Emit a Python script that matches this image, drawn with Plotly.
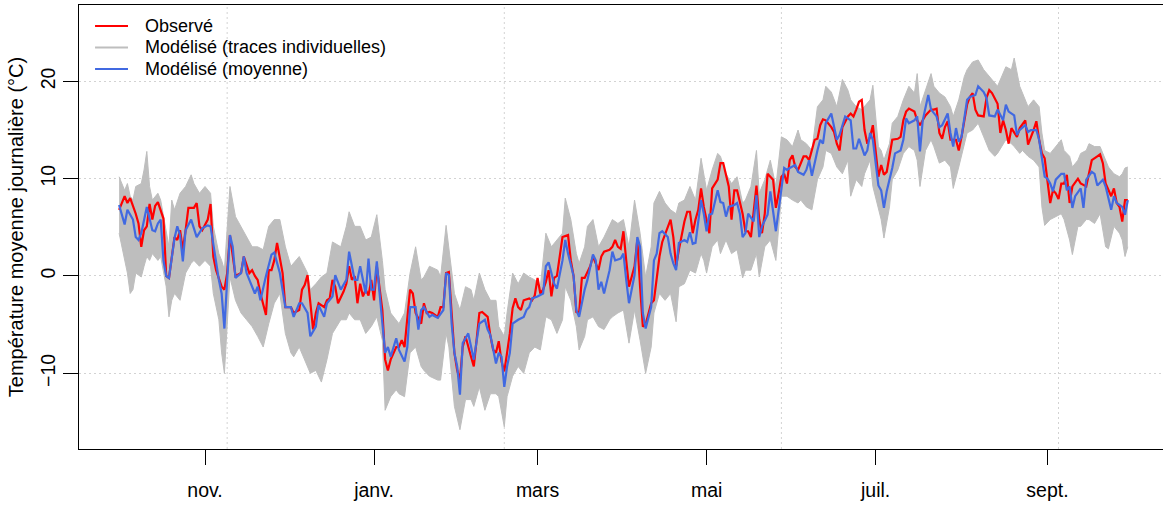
"""
Température moyenne journalière : observée vs modélisée (oct. 2002 - sept. 2003)
"""
import pandas as pd
import plotly.graph_objects as go

# jours comptés depuis le 1er octobre 2002
DEBUT = pd.Timestamp("2002-10-01")

obs_jour = [0, 2, 3, 4, 6, 7, 8, 9, 10, 11, 12, 13, 14, 16, 17, 18, 20, 21, 22, 23, 24, 25, 27, 28, 29, 30,
            32, 33, 34, 35, 37, 38, 39, 40, 42, 44, 45, 47, 48, 49, 50, 51, 53, 54, 55, 56, 57, 59, 60, 62,
            63, 65, 66, 67, 68, 69, 70, 71, 72, 74, 75, 76, 77, 78, 79, 81, 82, 83, 84, 85, 86, 87, 88, 89,
            90, 91, 92, 93, 94, 95, 96, 97, 98, 100, 101, 102, 103, 104, 105, 106, 107, 109, 110, 111, 112,
            113, 115, 116, 117, 118, 119, 120, 121, 122, 123, 124, 125, 127, 128, 129, 130, 131, 133, 134,
            135, 136, 137, 138, 139, 140, 141, 142, 143, 144, 145, 146, 148, 149, 150, 151, 152, 153, 154,
            155, 156, 157, 158, 159, 160, 162, 163, 164, 165, 166, 167, 168, 170, 171, 172, 173, 174, 175,
            177, 178, 179, 180, 181, 182, 183, 184, 186, 187, 188, 189, 190, 192, 193, 194, 195, 196, 198,
            199, 200, 201, 202, 204, 205, 206, 207, 208, 209, 210, 211, 212, 213, 214, 216, 217, 218, 219,
            220, 221, 222, 223, 225, 226, 227, 228, 230, 231, 232, 233, 234, 236, 237, 238, 239, 240, 241,
            242, 243, 244, 245, 247, 248, 249, 251, 252, 253, 254, 255, 257, 258, 259, 260, 261, 263, 264,
            265, 266, 267, 268, 269, 270, 271, 272, 273, 274, 275, 276, 277, 278, 279, 281, 282, 283, 284,
            285, 287, 288, 289, 290, 291, 293, 294, 295, 296, 297, 298, 299, 300, 302, 303, 304, 306, 307,
            308, 309, 310, 312, 313, 314, 315, 317, 318, 319, 320, 321, 322, 324, 325, 327, 328, 330, 331,
            332, 333, 334, 335, 336, 337, 338, 339, 340, 341, 342, 343, 344, 346, 347, 349, 350, 351, 353,
            354, 355, 356, 358, 359, 360, 361, 362, 363, 364]
obs_temp = [6.8, 8.2, 7.5, 8.0, 6.4, 5.4, 3.0, 4.7, 5.1, 7.4, 5.8, 7.2, 7.6, 5.9, 0.0, -0.2, 4.0, 3.7, 4.7,
            2.7, 4.7, 7.0, 7.0, 7.5, 5.1, 4.7, 5.8, 7.4, 2.0, 0.6, -1.1, -1.4, 0.3, 4.2, 0.0, 0.3, 2.0, 0.3,
            0.6, 0.0, -0.4, -1.8, -4.0, 0.6, 0.6, 1.6, 3.4, 0.3, -3.2, -3.2, -3.8, -3.5, -1.4, -0.9, 0.1,
            -2.5, -5.5, -3.8, -2.8, -3.2, -2.5, -2.3, -0.4, -1.1, -2.8, -1.6, -0.8, 1.0, -0.4, 0.0, -2.8,
            -0.8, -2.1, -1.4, -2.0, -0.4, -2.5, 1.0, -1.1, -3.5, -8.6, -9.7, -8.6, -7.3, -7.3, -6.6, -7.3,
            -4.5, -1.4, -1.8, -3.8, -4.9, -2.8, -3.8, -3.7, -3.8, -4.2, -3.2, -3.2, 0.3, 0.4, -3.8, -7.9,
            -9.7, -10.7, -7.3, -6.2, -8.3, -9.3, -6.6, -3.8, -3.7, -4.2, -6.2, -7.6, -7.9, -6.7, -8.8, -9.8,
            -7.9, -5.9, -3.3, -2.3, -3.2, -3.5, -2.5, -2.3, -2.5, -2.0, -0.2, -1.8, -1.4, -0.6, 0.6, -2.1,
            -0.2, 0.0, 2.0, 4.0, 4.2, 1.6, 0.0, -3.7, -3.8, -0.2, -0.2, 1.0, 2.0, 1.3, 0.6, 2.0, 2.5, 2.7,
            3.0, 3.7, 3.0, 2.8, 4.6, 1.6, -1.1, 1.0, 3.7, -1.1, -5.2, -5.0, -2.8, -2.5, 0.0, 2.0, 3.5, 5.1,
            5.8, 4.0, 1.0, 2.7, 5.6, 6.6, 6.6, 4.4, 5.8, 6.8, 9.0, 7.1, 5.8, 4.4, 9.0, 9.9, 11.6, 11.6,
            10.4, 9.2, 5.8, 8.8, 8.8, 6.4, 4.6, 4.6, 4.0, 9.3, 5.8, 4.4, 6.4, 10.5, 9.9, 7.0, 8.5, 10.2,
            10.5, 9.5, 11.9, 12.4, 11.2, 10.9, 12.3, 12.3, 11.9, 14.0, 14.1, 15.5, 16.1, 16.0, 15.3, 14.8,
            13.6, 12.9, 15.3, 16.4, 16.7, 16.4, 17.1, 17.9, 18.1, 15.0, 13.6, 14.3, 15.5, 12.6, 10.2, 11.4,
            10.4, 10.7, 12.6, 14.0, 14.1, 14.3, 16.0, 16.9, 17.2, 16.9, 16.0, 15.5, 16.0, 16.5, 17.1, 17.1,
            17.2, 14.7, 14.1, 15.3, 15.9, 14.0, 14.0, 12.9, 14.3, 17.6, 18.4, 18.8, 17.1, 16.5, 16.4, 18.3,
            19.1, 18.8, 17.7, 14.7, 16.0, 15.0, 13.6, 15.2, 14.3, 15.2, 16.0, 13.5, 15.0, 15.9, 14.0, 12.6,
            12.1, 9.5, 7.5, 8.8, 8.5, 7.9, 9.5, 9.5, 10.4, 7.5, 9.2, 10.0, 9.5, 9.2, 10.5, 11.9, 12.3, 12.5,
            11.6, 9.5, 8.2, 9.0, 7.5, 7.1, 5.6, 7.8, 7.8]

moy_jour = [0, 1, 2, 3, 5, 6, 7, 8, 9, 10, 12, 13, 14, 15, 16, 17, 18, 20, 21, 22, 23, 24, 26, 28, 30, 32,
            33, 35, 36, 37, 38, 39, 40, 41, 42, 44, 45, 46, 47, 49, 50, 51, 53, 55, 56, 58, 60, 62, 63, 65,
            66, 68, 69, 71, 72, 74, 75, 77, 78, 80, 82, 83, 85, 86, 87, 88, 89, 90, 91, 92, 93, 94, 96, 97,
            98, 100, 101, 103, 104, 105, 107, 108, 109, 110, 112, 113, 115, 117, 118, 119, 120, 121, 122,
            123, 124, 126, 127, 128, 130, 132, 133, 134, 136, 137, 138, 139, 140, 141, 142, 144, 146, 147,
            148, 149, 151, 153, 154, 155, 157, 158, 160, 161, 162, 164, 165, 166, 168, 169, 171, 172, 173,
            174, 175, 177, 178, 179, 181, 182, 183, 184, 186, 187, 188, 189, 190, 192, 193, 194, 195, 196,
            198, 199, 200, 201, 202, 204, 205, 206, 207, 208, 210, 211, 212, 213, 214, 216, 217, 218, 219,
            220, 222, 223, 224, 225, 226, 227, 229, 230, 231, 232, 234, 235, 237, 239, 240, 241, 242, 244,
            245, 247, 248, 249, 250, 252, 253, 254, 255, 257, 258, 259, 260, 262, 264, 265, 266, 267, 269,
            270, 271, 272, 274, 275, 276, 277, 279, 280, 282, 283, 284, 285, 287, 288, 289, 290, 292, 293,
            295, 296, 297, 299, 300, 301, 302, 303, 304, 306, 307, 309, 310, 312, 313, 314, 316, 317, 319,
            320, 321, 323, 324, 325, 327, 328, 329, 331, 332, 333, 334, 335, 336, 337, 338, 340, 341, 342,
            343, 344, 345, 347, 348, 349, 351, 352, 353, 355, 356, 358, 359, 360, 362, 363, 364]
moy_temp = [7.3, 6.4, 5.3, 6.8, 5.8, 4.0, 3.7, 4.4, 5.6, 7.1, 4.7, 4.6, 5.4, 5.8, 1.6, 0.0, -0.2, 3.9, 5.1,
            4.2, 1.5, 4.7, 5.8, 4.0, 4.9, 5.2, 5.1, 1.3, -0.4, -1.8, -5.4, -0.4, 4.2, 3.0, -0.2, 0.3, 2.0,
            0.3, -0.4, -1.8, -1.1, -2.5, 0.0, 2.2, 2.4, 0.3, -3.2, -3.2, -4.2, -2.8, -2.8, -3.8, -6.2, -5.2,
            -3.0, -4.2, -2.8, -2.1, 0.1, -1.4, -0.4, 2.5, -0.4, -0.4, 1.0, -0.4, -1.8, 1.8, -1.4, -1.4, 1.5,
            -1.8, -7.9, -7.3, -8.3, -6.4, -7.6, -8.8, -7.3, -3.2, -3.2, -5.5, -3.5, -3.2, -4.2, -4.0, -4.3,
            -3.5, 0.3, 0.1, -4.9, -7.9, -9.3, -12.2, -6.9, -5.9, -7.3, -8.6, -4.9, -4.5, -5.5, -6.1, -9.0,
            -7.9, -8.3, -11.4, -9.3, -7.9, -4.9, -4.5, -4.2, -3.5, -3.2, -2.3, -2.1, -1.8, 1.0, 1.4, -0.8,
            -1.3, 1.6, 3.7, 2.3, 0.0, -3.5, -4.2, -1.4, -0.4, 2.2, 1.6, -1.4, -0.6, -1.8, 0.6, 2.5, 1.6,
            1.8, 2.3, -0.4, -2.8, 0.1, 4.0, 3.0, -3.8, -5.4, -3.2, 1.6, 2.3, 4.4, 4.6, 4.0, 2.3, 1.3, 0.6,
            3.4, 3.7, 3.5, 4.5, 3.3, 3.4, 7.8, 6.4, 4.6, 6.3, 6.4, 8.8, 7.6, 7.5, 6.1, 7.1, 7.3, 7.5, 6.4,
            4.0, 4.4, 6.4, 5.6, 8.3, 4.0, 5.1, 6.3, 8.7, 4.6, 9.2, 11.1, 10.9, 11.1, 11.4, 10.7, 10.4, 10.9,
            11.9, 10.3, 12.9, 14.0, 13.6, 15.7, 16.7, 15.3, 14.0, 14.5, 16.4, 16.0, 13.1, 13.1, 14.1, 12.4,
            12.9, 14.7, 14.0, 9.3, 8.8, 7.0, 8.7, 11.1, 12.6, 12.9, 14.0, 16.2, 15.7, 16.0, 16.4, 12.8,
            16.0, 18.6, 17.1, 16.4, 15.3, 15.5, 16.7, 14.7, 13.3, 15.2, 13.8, 14.3, 18.1, 18.4, 18.6, 19.5,
            18.9, 18.3, 16.5, 16.4, 17.1, 16.0, 17.6, 16.9, 16.5, 14.5, 15.0, 15.5, 14.8, 15.0, 15.0, 14.0,
            12.3, 10.2, 10.0, 9.5, 8.7, 9.9, 10.5, 10.5, 8.8, 9.2, 7.0, 8.2, 9.0, 7.0, 9.9, 10.7, 10.5,
            9.3, 9.9, 9.2, 6.8, 8.2, 7.5, 7.1, 6.3, 7.8]

# enveloppe des traces individuelles (min / max de l'ensemble)
env_jour = [0, 2, 3, 4, 5, 6, 8, 9, 10, 11, 12, 14, 15, 17, 18, 19, 20, 22, 24, 26, 27, 29, 31, 33, 34, 36,
            37, 38, 40, 42, 44, 46, 48, 50, 52, 54, 56, 58, 60, 62, 63, 65, 68, 69, 71, 73, 75, 77, 80, 82,
            83, 85, 87, 89, 91, 93, 95, 96, 98, 100, 101, 103, 105, 107, 109, 110, 112, 115, 116, 118, 119,
            121, 123, 125, 127, 128, 130, 132, 134, 136, 137, 139, 140, 142, 144, 146, 148, 150, 152, 154,
            156, 158, 160, 161, 163, 165, 166, 168, 169, 171, 173, 175, 177, 178, 180, 182, 184, 186, 188,
            190, 192, 193, 195, 197, 199, 201, 202, 204, 206, 208, 210, 211, 212, 214, 216, 217, 219, 221,
            223, 225, 226, 228, 230, 231, 233, 235, 237, 239, 241, 243, 245, 246, 248, 250, 252, 254, 255,
            257, 259, 261, 263, 264, 266, 268, 269, 271, 272, 274, 275, 276, 278, 279, 281, 283, 285, 287,
            288, 289, 291, 293, 294, 296, 298, 300, 301, 303, 305, 306, 308, 310, 312, 314, 316, 317, 320,
            322, 323, 325, 326, 328, 330, 332, 333, 334, 336, 338, 340, 341, 343, 344, 346, 347, 349, 350,
            352, 354, 356, 357, 359, 361, 362, 363, 364]
env_haut = [10.2, 8.8, 9.5, 8.2, 7.8, 9.2, 9.5, 10.9, 12.8, 9.2, 7.8, 8.5, 7.8, 4.4, 3.0, 7.8, 6.8, 8.5, 9.2,
            10.4, 9.5, 8.5, 9.2, 8.5, 5.1, 2.3, 1.6, 0.6, 9.2, 6.1, 5.1, 4.0, 3.0, 3.0, 2.7, 5.1, 5.8, 5.8,
            3.0, 1.0, 1.3, 2.0, 0.3, -1.4, -0.8, -0.1, 0.3, 3.5, 3.0, 5.1, 6.6, 5.1, 5.1, 3.7, 4.0, 6.3,
            1.6, -1.4, -3.8, -4.5, -4.9, -3.8, 0.3, 3.0, -0.4, -0.1, 1.0, 0.6, -0.1, 5.2, 3.0, -1.8, -3.5,
            -1.1, -1.4, -2.5, 0.3, -1.4, -2.5, -2.5, -5.2, -6.2, -3.8, 0.3, -0.8, 0.3, -0.1, -0.4, -1.1,
            4.4, 3.0, 3.7, 4.4, 8.0, 5.8, 2.3, 1.3, 3.0, 5.1, 5.8, 3.0, 4.0, 5.1, 5.8, 5.4, 5.8, 3.0, 7.8,
            4.4, -0.1, 3.0, 7.5, 8.7, 7.5, 6.8, 6.4, 7.5, 7.8, 9.2, 7.8, 12.1, 10.2, 8.8, 10.9, 12.6, 12.3,
            10.5, 9.5, 10.2, 7.5, 7.8, 9.2, 12.9, 8.5, 9.9, 11.9, 9.2, 14.3, 14.0, 13.3, 15.0, 14.0, 13.6,
            12.9, 17.4, 18.1, 19.5, 18.9, 17.4, 20.2, 19.1, 18.1, 17.4, 17.1, 17.4, 18.1, 19.6, 13.3, 12.9,
            11.9, 13.6, 15.7, 16.4, 18.1, 19.5, 18.8, 20.8, 17.4, 19.1, 20.8, 19.5, 18.8, 18.4, 17.4, 16.4,
            18.1, 20.5, 21.2, 22.0, 22.2, 21.2, 20.5, 19.8, 19.5, 21.5, 21.2, 22.4, 19.5, 18.8, 17.4, 18.1,
            17.4, 14.7, 12.9, 12.6, 13.3, 14.0, 12.9, 12.3, 11.2, 11.9, 12.6, 12.9, 13.6, 13.3, 13.3, 11.9,
            11.2, 10.5, 10.2, 10.5, 11.1, 11.2]
env_bas = [4.4, 1.6, 0.3, -1.8, -1.4, 0.3, -0.1, 1.0, 2.0, 1.6, 2.3, 1.6, 2.0, -1.1, -4.2, -2.5, -1.8, -2.5,
           0.3, 1.3, 1.6, 1.0, 1.6, 1.0, -1.8, -4.5, -7.9, -10.0, -0.1, -2.5, -3.8, -4.5, -5.2, -6.2, -7.3,
           -4.9, -2.8, -1.8, -5.9, -7.9, -8.3, -7.3, -9.3, -10.0, -9.7, -10.9, -8.6, -5.9, -4.5, -4.5,
           -3.8, -4.5, -4.5, -5.9, -5.2, -4.2, -6.6, -13.8, -12.4, -11.7, -12.1, -12.4, -7.9, -7.3, -9.3,
           -9.7, -10.3, -10.7, -10.7, -5.9, -7.3, -13.4, -15.8, -12.7, -12.7, -13.4, -11.4, -13.8, -12.1,
           -12.1, -12.4, -15.5, -12.4, -10.3, -9.3, -10.0, -7.9, -7.3, -7.6, -4.2, -4.5, -5.9, -4.5, -1.1,
           -2.5, -5.2, -7.6, -6.2, -4.5, -4.2, -5.2, -5.5, -4.5, -4.2, -3.8, -3.5, -6.9, -3.5, -6.6, -10.0,
           -7.3, -3.8, -1.8, -2.5, -1.8, -4.7, -1.1, -0.8, 0.6, 0.3, 2.3, 1.6, 0.3, 3.0, 3.7, 2.3, 3.7,
           2.3, 2.7, -0.2, 0.6, 0.6, 2.3, -0.1, 3.0, 3.7, 1.6, 8.2, 8.2, 7.8, 7.5, 7.8, 7.1, 6.8, 9.9,
           11.2, 12.9, 12.6, 11.2, 10.5, 11.9, 8.2, 9.9, 9.2, 10.5, 11.9, 9.2, 7.1, 5.8, 3.9, 7.1, 9.9,
           10.9, 12.6, 13.3, 12.9, 11.9, 9.2, 12.9, 14.0, 13.3, 11.6, 11.9, 11.2, 9.0, 11.2, 13.6, 14.7,
           15.0, 15.7, 14.3, 12.9, 12.3, 12.6, 14.0, 13.6, 13.3, 12.6, 12.9, 12.3, 11.9, 11.2, 7.1, 5.2,
           5.8, 6.1, 6.4, 5.8, 3.7, 2.2, 5.1, 5.1, 5.8, 5.8, 5.4, 6.4, 3.0, 2.8, 5.1, 4.4, 3.7, 2.0, 3.0]

mois_ticks = ["2002-11-01", "2003-01-01", "2003-03-01", "2003-05-01", "2003-07-01", "2003-09-01"]
mois_labels = ["nov.", "janv.", "mars", "mai", "juil.", "sept."]
y_ticks = [-10, 0, 10, 20]

ROUGE = "#FF0000"
BLEU = "#4169E1"
GRIS = "#BEBEBE"
GRILLE = "#D3D3D3"
POLICE = "Liberation Sans, Arial, sans-serif"


def en_dates(jours):
    return DEBUT + pd.to_timedelta(jours, unit="D")


fig = go.Figure()

# enveloppe grise : bas puis haut rempli
fig.add_trace(go.Scatter(x=en_dates(env_jour), y=env_bas, mode="lines",
                         line=dict(color=GRIS, width=1), showlegend=False,
                         hoverinfo="skip"))
fig.add_trace(go.Scatter(x=en_dates(env_jour), y=env_haut, mode="lines",
                         line=dict(color=GRIS, width=1), fill="tonexty",
                         fillcolor=GRIS, name="Modélisé (traces individuelles)",
                         showlegend=False))
fig.add_trace(go.Scatter(x=en_dates(obs_jour), y=obs_temp, mode="lines",
                         line=dict(color=ROUGE, width=2.2), name="Observé",
                         showlegend=False))
fig.add_trace(go.Scatter(x=en_dates(moy_jour), y=moy_temp, mode="lines",
                         line=dict(color=BLEU, width=2.2), name="Modélisé (moyenne)",
                         showlegend=False))

# plage de l'axe x : données + marge de 4 % (façon R), bord droit rogné
x_min = DEBUT - pd.Timedelta(days=14.47)
x_max = DEBUT + pd.Timedelta(days=376.7)

# grille verticale tous les 100 jours (jours depuis 1970)
grille_x = []
for k in range(100, 140):
    d = pd.Timestamp("1970-01-01") + pd.Timedelta(days=100 * k)
    if x_min < d < x_max:
        grille_x.append(d)

shapes = []
for d in grille_x:
    shapes.append(dict(type="line", xref="x", yref="paper", x0=d, x1=d, y0=0, y1=1,
                       line=dict(color=GRILLE, width=1, dash="2px,3px"), layer="below"))

# légende dessinée à la main (coin haut gauche, sans cadre)
legende = [("Observé", ROUGE), ("Modélisé (traces individuelles)", GRIS),
           ("Modélisé (moyenne)", BLEU)]
annotations = []
for i, (txt, col) in enumerate(legende):
    yl = 0.9527 - i * 0.0484
    shapes.append(dict(type="line", xref="paper", yref="paper", x0=0.0148, x1=0.0452,
                       y0=yl, y1=yl, line=dict(color=col, width=2.2)))
    annotations.append(dict(text=txt, xref="paper", yref="paper", x=0.059, y=yl,
                            xanchor="left", yanchor="middle", showarrow=False,
                            font=dict(size=18, color="black", family=POLICE)))

fig.update_layout(
    width=1163, height=506,
    margin=dict(l=79, r=0, t=5, b=57),
    paper_bgcolor="white", plot_bgcolor="white",
    font=dict(family=POLICE, color="black"),
    showlegend=False,
    shapes=shapes,
    annotations=annotations,
)
fig.update_xaxes(
    type="date", range=[x_min, x_max], automargin=False,
    tickmode="array", tickvals=mois_ticks, ticktext=mois_labels,
    ticks="outside", ticklen=15, tickwidth=1, tickcolor="black",
    tickfont=dict(size=19.5), ticklabelstandoff=9,
    showline=True, linecolor="black", linewidth=1, mirror=True,
    showgrid=False, zeroline=False,
)
fig.update_yaxes(
    range=[-17.78, 27.85], automargin=False,
    tickmode="array", tickvals=y_ticks, tickangle=-90,
    ticks="outside", ticklen=15, tickwidth=1, tickcolor="black",
    tickfont=dict(size=19.5),
    showline=True, linecolor="black", linewidth=1,
    showgrid=True, gridcolor=GRILLE, griddash="2px,3px", gridwidth=1,
    zeroline=False,
    title=dict(text="Température moyenne journalière (°C)", font=dict(size=20), standoff=8),
)

# la page html a une marge de 8 px par défaut : on la retire
fig.write_html("out.html", config={"displayModeBar": False},
               post_script="document.body.style.margin = '0';")
